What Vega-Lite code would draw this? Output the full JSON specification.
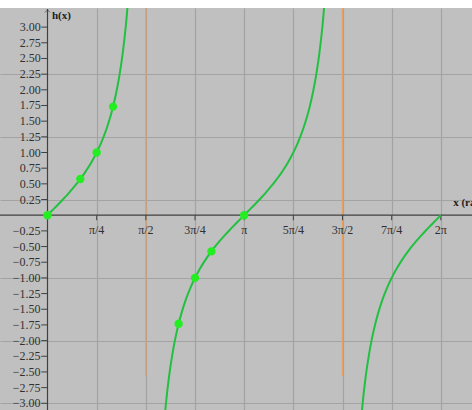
{
  "$schema": "https://vega.github.io/schema/vega-lite/v6.json",
  "width": 472,
  "height": 402,
  "autosize": "none",
  "padding": {"left": 0, "top": 8, "right": 0, "bottom": 0},
  "background": "white",
  "config": {
    "view": {"fill": "#c0c0c0", "stroke": null},
    "axis": {"labels": false, "ticks": false, "domain": false, "title": null, "grid": true, "gridColor": "#a3a3a3", "gridWidth": 1.2, "gridOpacity": 1}
  },
  "datasets": {
    "curve": [
      {"b":1,"x":0.00,"y":0},{"b":1,"x":0.05,"y":0.0500},{"b":1,"x":0.10,"y":0.1003},{"b":1,"x":0.15,"y":0.1511},{"b":1,"x":0.20,"y":0.2027},{"b":1,"x":0.25,"y":0.2553},{"b":1,"x":0.30,"y":0.3093},{"b":1,"x":0.35,"y":0.3650},{"b":1,"x":0.40,"y":0.4228},{"b":1,"x":0.45,"y":0.4831},{"b":1,"x":0.50,"y":0.5463},{"b":1,"x":0.55,"y":0.6131},{"b":1,"x":0.60,"y":0.6841},{"b":1,"x":0.65,"y":0.7602},{"b":1,"x":0.70,"y":0.8423},{"b":1,"x":0.75,"y":0.9316},{"b":1,"x":0.80,"y":1.0296},{"b":1,"x":0.85,"y":1.1383},{"b":1,"x":0.90,"y":1.2602},{"b":1,"x":0.95,"y":1.3984},{"b":1,"x":1.00,"y":1.5574},{"b":1,"x":1.05,"y":1.7433},{"b":1,"x":1.10,"y":1.9648},{"b":1,"x":1.15,"y":2.2345},{"b":1,"x":1.20,"y":2.5722},{"b":1,"x":1.25,"y":3.0096},{"b":1,"x":1.30,"y":3.6021},
      {"b":2,"x":1.8416,"y":-3.6021},{"b":2,"x":1.8916,"y":-3.0096},{"b":2,"x":1.9416,"y":-2.5722},{"b":2,"x":1.9916,"y":-2.2345},{"b":2,"x":2.0416,"y":-1.9648},{"b":2,"x":2.0916,"y":-1.7433},{"b":2,"x":2.1416,"y":-1.5574},{"b":2,"x":2.1916,"y":-1.3984},{"b":2,"x":2.2416,"y":-1.2602},{"b":2,"x":2.2916,"y":-1.1383},{"b":2,"x":2.3416,"y":-1.0296},{"b":2,"x":2.3916,"y":-0.9316},{"b":2,"x":2.4416,"y":-0.8423},{"b":2,"x":2.4916,"y":-0.7602},{"b":2,"x":2.5416,"y":-0.6841},{"b":2,"x":2.5916,"y":-0.6131},{"b":2,"x":2.6416,"y":-0.5463},{"b":2,"x":2.6916,"y":-0.4831},{"b":2,"x":2.7416,"y":-0.4228},{"b":2,"x":2.7916,"y":-0.3650},{"b":2,"x":2.8416,"y":-0.3093},{"b":2,"x":2.8916,"y":-0.2553},{"b":2,"x":2.9416,"y":-0.2027},{"b":2,"x":2.9916,"y":-0.1511},{"b":2,"x":3.0416,"y":-0.1003},{"b":2,"x":3.0916,"y":-0.0500},{"b":2,"x":3.1416,"y":0},
      {"b":2,"x":3.1916,"y":0.0500},{"b":2,"x":3.2416,"y":0.1003},{"b":2,"x":3.2916,"y":0.1511},{"b":2,"x":3.3416,"y":0.2027},{"b":2,"x":3.3916,"y":0.2553},{"b":2,"x":3.4416,"y":0.3093},{"b":2,"x":3.4916,"y":0.3650},{"b":2,"x":3.5416,"y":0.4228},{"b":2,"x":3.5916,"y":0.4831},{"b":2,"x":3.6416,"y":0.5463},{"b":2,"x":3.6916,"y":0.6131},{"b":2,"x":3.7416,"y":0.6841},{"b":2,"x":3.7916,"y":0.7602},{"b":2,"x":3.8416,"y":0.8423},{"b":2,"x":3.8916,"y":0.9316},{"b":2,"x":3.9416,"y":1.0296},{"b":2,"x":3.9916,"y":1.1383},{"b":2,"x":4.0416,"y":1.2602},{"b":2,"x":4.0916,"y":1.3984},{"b":2,"x":4.1416,"y":1.5574},{"b":2,"x":4.1916,"y":1.7433},{"b":2,"x":4.2416,"y":1.9648},{"b":2,"x":4.2916,"y":2.2345},{"b":2,"x":4.3416,"y":2.5722},{"b":2,"x":4.3916,"y":3.0096},{"b":2,"x":4.4416,"y":3.6021},
      {"b":3,"x":4.9832,"y":-3.6021},{"b":3,"x":5.0332,"y":-3.0096},{"b":3,"x":5.0832,"y":-2.5722},{"b":3,"x":5.1332,"y":-2.2345},{"b":3,"x":5.1832,"y":-1.9648},{"b":3,"x":5.2332,"y":-1.7433},{"b":3,"x":5.2832,"y":-1.5574},{"b":3,"x":5.3332,"y":-1.3984},{"b":3,"x":5.3832,"y":-1.2602},{"b":3,"x":5.4332,"y":-1.1383},{"b":3,"x":5.4832,"y":-1.0296},{"b":3,"x":5.5332,"y":-0.9316},{"b":3,"x":5.5832,"y":-0.8423},{"b":3,"x":5.6332,"y":-0.7602},{"b":3,"x":5.6832,"y":-0.6841},{"b":3,"x":5.7332,"y":-0.6131},{"b":3,"x":5.7832,"y":-0.5463},{"b":3,"x":5.8332,"y":-0.4831},{"b":3,"x":5.8832,"y":-0.4228},{"b":3,"x":5.9332,"y":-0.3650},{"b":3,"x":5.9832,"y":-0.3093},{"b":3,"x":6.0332,"y":-0.2553},{"b":3,"x":6.0832,"y":-0.2027},{"b":3,"x":6.1332,"y":-0.1511},{"b":3,"x":6.1832,"y":-0.1003},{"b":3,"x":6.2332,"y":-0.0500},{"b":3,"x":6.2832,"y":0}
    ],
    "pts": [
      {"x":0,"y":0},{"x":0.5236,"y":0.5774},{"x":0.7854,"y":1},{"x":1.0472,"y":1.7321},
      {"x":2.0944,"y":-1.7321},{"x":2.3562,"y":-1},{"x":2.618,"y":-0.5774},{"x":3.1416,"y":0}
    ],
    "asym": [
      {"x":1.5708,"y":-2.57,"y2":3.4},{"x":4.7124,"y":-2.57,"y2":3.4}
    ],
    "axes": [
      {"x":0,"x2":0,"y":-3.2,"y2":3.29},
      {"x":-0.8,"x2":6.9,"y":0,"y2":0}
    ],
    "arrow": [
      {"x":0,"y":3.275}
    ],
    "xlab": [
      {"x":0.7854,"t":"π/4"},{"x":1.5708,"t":"π/2"},{"x":2.3562,"t":"3π/4"},{"x":3.1416,"t":"π"},
      {"x":3.927,"t":"5π/4"},{"x":4.7124,"t":"3π/2"},{"x":5.4978,"t":"7π/4"},{"x":6.2832,"t":"2π"}
    ],
    "ylab": [
      {"y":3,"t":"3.00"},{"y":2.75,"t":"2.75"},{"y":2.5,"t":"2.50"},{"y":2.25,"t":"2.25"},{"y":2,"t":"2.00"},{"y":1.75,"t":"1.75"},{"y":1.5,"t":"1.50"},{"y":1.25,"t":"1.25"},{"y":1,"t":"1.00"},{"y":0.75,"t":"0.75"},{"y":0.5,"t":"0.50"},{"y":0.25,"t":"0.25"},
      {"y":-0.25,"t":"−0.25"},{"y":-0.5,"t":"−0.50"},{"y":-0.75,"t":"−0.75"},{"y":-1,"t":"−1.00"},{"y":-1.25,"t":"−1.25"},{"y":-1.5,"t":"−1.50"},{"y":-1.75,"t":"−1.75"},{"y":-2,"t":"−2.00"},{"y":-2.25,"t":"−2.25"},{"y":-2.5,"t":"−2.50"},{"y":-2.75,"t":"−2.75"},{"y":-3,"t":"−3.00"}
    ],
    "titles": [
      {"x":0.07,"y":3.17,"t":"h(x)"},{"x":6.48,"y":0.2,"t":"x (rad)"}
    ]
  },
  "layer": [
    {
      "data": {"name": "asym"},
      "mark": {"type": "rule", "color": "#e8a060", "strokeWidth": 1.3, "clip": true},
      "encoding": {
        "x": {"field": "x", "type": "quantitative", "scale": {"domain": [-0.759, 6.781], "nice": false, "zero": false},
              "axis": {"values": [0.7854, 1.5708, 2.3562, 3.1416, 3.927, 4.7124, 5.4978, 6.2832]}},
        "y": {"field": "y", "type": "quantitative", "scale": {"domain": [-3.107, 3.305], "nice": false, "zero": false},
              "axis": {"values": [-3,-2.75,-2.5,-2.25,-2,-1.75,-1.5,-1.25,-1,-0.75,-0.5,-0.25,0.25,0.5,0.75,1,1.25,1.5,1.75,2,2.25,2.5,2.75,3]}},
        "y2": {"field": "y2"}
      }
    },
    {
      "data": {"name": "axes"},
      "mark": {"type": "rule", "color": "#404040", "strokeWidth": 1.2, "clip": true},
      "encoding": {
        "x": {"field": "x", "type": "quantitative"},
        "x2": {"field": "x2"},
        "y": {"field": "y", "type": "quantitative"},
        "y2": {"field": "y2"}
      }
    },
    {
      "data": {"name": "arrow"},
      "mark": {"type": "point", "shape": "M-1,1L0,0L1,1", "filled": false, "color": "#404040", "strokeWidth": 1, "size": 25},
      "encoding": {
        "x": {"field": "x", "type": "quantitative"},
        "y": {"field": "y", "type": "quantitative"}
      }
    },
    {
      "data": {"name": "xlab"},
      "mark": {"type": "rule", "color": "#404040", "strokeWidth": 1},
      "encoding": {
        "x": {"field": "x", "type": "quantitative"},
        "y": {"datum": -0.08, "type": "quantitative"},
        "y2": {"datum": 0}
      }
    },
    {
      "data": {"name": "ylab"},
      "mark": {"type": "rule", "color": "#404040", "strokeWidth": 1},
      "encoding": {
        "y": {"field": "y", "type": "quantitative"},
        "x": {"datum": -0.1, "type": "quantitative"},
        "x2": {"datum": 0}
      }
    },
    {
      "data": {"name": "curve"},
      "mark": {"type": "line", "color": "#22c040", "strokeWidth": 2, "clip": true, "interpolate": "monotone"},
      "encoding": {
        "x": {"field": "x", "type": "quantitative"},
        "y": {"field": "y", "type": "quantitative"},
        "detail": {"field": "b"}
      }
    },
    {
      "data": {"name": "pts"},
      "mark": {"type": "circle", "color": "#22ee22", "opacity": 1, "size": 70},
      "encoding": {
        "x": {"field": "x", "type": "quantitative"},
        "y": {"field": "y", "type": "quantitative"}
      }
    },
    {
      "data": {"name": "xlab"},
      "mark": {"type": "text", "font": "Liberation Serif", "fontSize": 12, "color": "#303030", "align": "center", "baseline": "middle"},
      "encoding": {
        "x": {"field": "x", "type": "quantitative"},
        "y": {"datum": -0.24, "type": "quantitative"},
        "text": {"field": "t"}
      }
    },
    {
      "data": {"name": "ylab"},
      "mark": {"type": "text", "font": "Liberation Serif", "fontSize": 12, "color": "#303030", "align": "right", "baseline": "middle"},
      "encoding": {
        "y": {"field": "y", "type": "quantitative"},
        "x": {"datum": -0.11, "type": "quantitative"},
        "text": {"field": "t"}
      }
    },
    {
      "data": {"name": "titles"},
      "mark": {"type": "text", "font": "Liberation Serif", "fontSize": 11, "fontWeight": "bold", "color": "#202020", "align": "left", "baseline": "middle"},
      "encoding": {
        "x": {"field": "x", "type": "quantitative"},
        "y": {"field": "y", "type": "quantitative"},
        "text": {"field": "t"}
      }
    }
  ]
}
